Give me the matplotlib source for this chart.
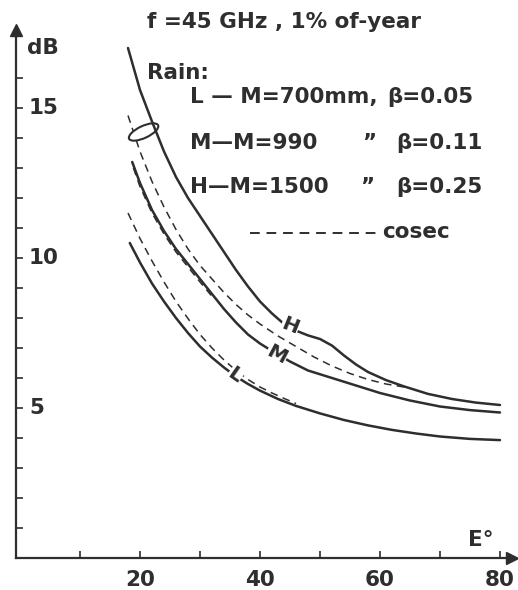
import matplotlib
matplotlib.use("Agg")
import matplotlib.pyplot as plt
from matplotlib.patches import Ellipse
from matplotlib.lines import Line2D
from matplotlib.transforms import ScaledTranslation, blended_transform_factory

# ---------------- data ----------------
E_H = [18, 20, 22, 24, 26, 28, 30, 32, 34, 36, 38, 40, 42, 44, 46, 48, 50, 52, 54, 56, 58, 61, 64, 68, 72, 76, 80]
dB_H = [17.0, 15.6, 14.55, 13.55, 12.7, 12.0, 11.4, 10.8, 10.2, 9.6, 9.05, 8.55, 8.15, 7.8, 7.58, 7.42,
        7.3, 7.08, 6.75, 6.45, 6.2, 5.93, 5.72, 5.47, 5.3, 5.18, 5.1]

E_Hc = [18, 20, 22, 24, 26, 28, 30, 32, 34, 36, 38, 40, 43, 46, 49, 52, 55, 58, 61, 64]
dB_Hc = [14.75, 13.55, 12.55, 11.7, 10.95, 10.3, 9.75, 9.3, 8.85, 8.45, 8.1, 7.8, 7.4, 7.05, 6.7, 6.4,
         6.15, 5.95, 5.8, 5.7]

E_M = [18.7, 20, 22, 24, 26, 28, 30, 32, 34, 36, 38, 40, 42, 45, 48, 52, 56, 60, 65, 70, 75, 80]
dB_M = [13.2, 12.5, 11.6, 10.9, 10.3, 9.8, 9.3, 8.8, 8.3, 7.85, 7.45, 7.15, 6.9, 6.55, 6.25, 6.0,
        5.75, 5.5, 5.25, 5.05, 4.93, 4.85]

E_Mc = [18.9, 20, 22, 24, 26, 28, 30, 32]
dB_Mc = [13.0, 12.38, 11.5, 10.8, 10.2, 9.7, 9.2, 8.72]

E_L = [18.3, 20, 22, 24, 26, 28, 30, 32, 34, 36, 38, 40, 43, 46, 50, 54, 58, 62, 66, 70, 75, 80]
dB_L = [10.5, 9.85, 9.15, 8.55, 8.0, 7.5, 7.05, 6.68, 6.35, 6.05, 5.8, 5.58, 5.3, 5.07, 4.82, 4.6,
        4.42, 4.27, 4.15, 4.05, 3.97, 3.93]

E_Lc = [18, 20, 22, 24, 26, 28, 30, 32, 34, 36, 38, 40, 42, 44, 46]
dB_Lc = [11.5, 10.65, 9.9, 9.2, 8.55, 7.98, 7.45, 7.0, 6.6, 6.25, 5.95, 5.7, 5.5, 5.32, 5.15]

ytick_minor = list(range(1, 17))
ytick_labels = [5, 10, 15]
xtick_minor = [10, 20, 30, 40, 50, 60, 70, 80]
xtick_labels = [20, 40, 60, 80]

curve_labels = ["H", "M", "L"]
label_E = [45.0, 42.8, 35.8]
label_dB = [7.72, 6.78, 6.08]
label_rot = [-22, -28, -35]

ellipse_E, ellipse_dB = 20.6, 14.2

title = "f =45 GHz , 1% of-year"
legend_main = ["L \u2014 M=700mm,", "M\u2014M=990", "H\u2014M=1500"]
legend_ditto = ["", "\u201d", "\u201d"]
legend_beta = ["\u03b2=0.05", "\u03b2=0.11", "\u03b2=0.25"]

# ---------------- drawing ----------------
ink = '#2e2e2e'
plt.rcParams['font.family'] = ['DejaVu Sans']
W, H = 518, 590
fig = plt.figure(figsize=(W / 100, H / 100), dpi=100)
ax = fig.add_axes([16 / W, 32 / H, 496 / W, 528 / H])
ax.set_xlim(-0.667, 82.0)
ax.set_ylim(0, 17.6)
ax.patch.set_alpha(0)

for s in ['top', 'right']:
    ax.spines[s].set_visible(False)
for s in ['left', 'bottom']:
    ax.spines[s].set_color(ink)
    ax.spines[s].set_linewidth(1.6)
ax.spines['bottom'].set_bounds(-0.7, 82.0)
ax.plot(1, 0, marker='>', color=ink, markersize=8, transform=ax.transAxes, clip_on=False)
ax.plot(0, 1, marker='^', color=ink, markersize=8, transform=ax.transAxes, clip_on=False)

ax.set_yticks(ytick_minor)
ax.set_xticks(xtick_minor)
ax.tick_params(axis='both', direction='in', length=5, width=1.2, color=ink,
               labelleft=False, labelbottom=False)

def px(x, y):
    return x / W, 1 - y / H

tfont = dict(fontsize=15.5, color=ink, fontweight='bold')
nfont = dict(fontsize=15.5, color=ink, fontweight='bold')
btrans = blended_transform_factory(ax.transAxes, ax.transData)
for v in ytick_labels:
    ax.text(0.026, v, str(v), transform=btrans, ha='left', va='center', **nfont)
for v in xtick_labels:
    ax.text(v, -0.4, str(v), ha='center', va='top', **nfont)

solid = dict(color=ink, lw=1.8, solid_capstyle='round', zorder=4)
dashed = dict(color=ink, lw=1.1, ls=(0, (5, 3.5)), zorder=3)
ax.plot(E_H, dB_H, **solid)
ax.plot(E_M, dB_M, **solid)
ax.plot(E_L, dB_L, **solid)
ax.plot(E_Hc, dB_Hc, **dashed)
ax.plot(E_Mc, dB_Mc, **dashed)
ax.plot(E_Lc, dB_Lc, **dashed)

ell = Ellipse((0, 0), width=0.32, height=0.12, angle=25, facecolor='white',
              edgecolor=ink, lw=1.5, zorder=3.5,
              transform=fig.dpi_scale_trans + ScaledTranslation(ellipse_E, ellipse_dB, ax.transData))
ax.add_patch(ell)

for t, e, d, r in zip(curve_labels, label_E, label_dB, label_rot):
    ax.text(e, d, t, rotation=r, ha='center', va='center', fontsize=14.5, color=ink,
            fontweight='bold', zorder=6,
            bbox=dict(facecolor='white', edgecolor='none', pad=0.3))

fig.text(*px(147, 22), title, ha='left', va='center', **tfont)
fig.text(*px(27, 48), "dB", ha='left', va='center', **tfont)
fig.text(*px(147, 73), "Rain:", ha='left', va='center', **tfont)
ys = [97, 143, 187]
dx = [0, 362, 360]
bx = [387, 396, 396]
for a, d, b, y, xd, xb in zip(legend_main, legend_ditto, legend_beta, ys, dx, bx):
    fig.text(*px(190, y), a, ha='left', va='center', **tfont)
    if d:
        fig.text(*px(xd, y), d, ha='left', va='center', **tfont)
    fig.text(*px(xb, y), b, ha='left', va='center', **tfont)
x0, y0 = px(250, 233)
x1, _ = px(378, 233)
fig.add_artist(Line2D([x0, x1], [y0, y0], color=ink, lw=1.4, ls=(0, (5, 3.5)),
                      transform=fig.transFigure))
fig.text(*px(382, 232), "cosec", ha='left', va='center', **tfont)
fig.text(*px(468, 540), "E\u00b0", ha='left', va='center', **tfont)

fig.savefig("out.png", dpi=100, facecolor='white')
